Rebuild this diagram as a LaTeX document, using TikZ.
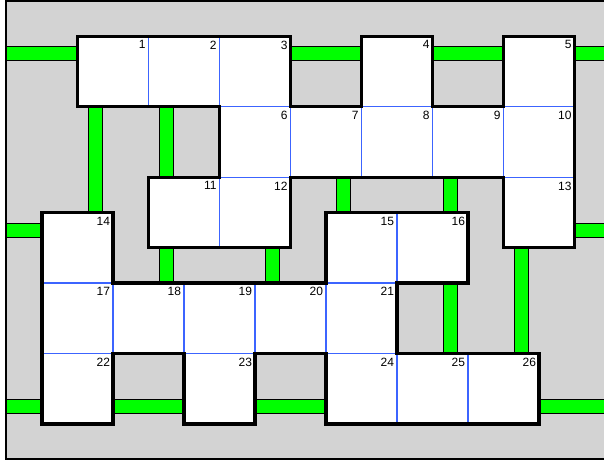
\documentclass[tikz,border=0pt]{standalone}
\usepackage{xcolor}
\usepackage{fontspec}
\setmainfont{Liberation Sans}
\usepackage{tikz}
\definecolor{mazegray}{RGB}{211,211,211}
\definecolor{mazegreen}{RGB}{0,255,0}
\definecolor{mazeblue}{RGB}{60,100,255}

\begin{document}
\begin{tikzpicture}[x=26.625pt,y=26.4375pt,
		wall/.style={line width=2.3pt,line join=miter},
		cellbox/.style={fill=white,draw=mazeblue,line width=1pt},
		pipe/.style={fill=mazegreen,draw=black,line width=0.8pt},
		num/.style={anchor=north east,inner xsep=2pt,inner ysep=3.1pt,font=\fontsize{9}{11}\selectfont}]
			\useasboundingbox (-1.183,-1.078) rectangle (15.831,12.028);
			\clip (-1.183,-1.078) rectangle (15.831,12.028);
			\fill[mazegray] (-1,-1) rectangle (16.5,12);
			% pipes between the rooms
			\foreach \y/\a/\b in {10.5/-1/1,10.5/7/9,10.5/11/13,10.5/15/16.5,5.5/-1/0,5.5/15/16.5,0.5/-1/0,0.5/2/4,0.5/6/8,0.5/14/16.5}{
				\draw[pipe] (\a,\y-0.2) rectangle (\b,\y+0.2);
			}
			\foreach \x/\a/\b in {1.5/6/9,3.5/7/9,8.5/6/7,11.5/6/7,3.5/4/5,6.5/4/5,11.5/2/4,13.5/2/5}{
				\draw[pipe] (\x-0.2,\a) rectangle (\x+0.2,\b);
			}
			\draw[line width=1.5pt] (-1,-1) rectangle (16.5,12);
			% rooms
			\foreach \x/\y/\n in {1/9/1,3/9/2,5/9/3,9/9/4,13/9/5,5/7/6,7/7/7,9/7/8,11/7/9,13/7/10,3/5/11,5/5/12,13/5/13,
				0/4/14,8/4/15,10/4/16,0/2/17,2/2/18,4/2/19,6/2/20,8/2/21,0/0/22,4/0/23,8/0/24,10/0/25,12/0/26}{
				\draw[cellbox] (\x,\y) rectangle ++(2,2);
				\node[num] (n\n) at (\x+2,\y+2) {\n};
			}
			\draw[wall] (1,11) -- (7,11) -- (7,9) -- (9,9) -- (9,11) -- (11,11) -- (11,9) -- (13,9) -- (13,11) -- (15,11) -- (15,5) -- (13,5) -- (13,7) -- (7,7) -- (7,5) -- (3,5) -- (3,7) -- (5,7) -- (5,9) -- (1,9) -- cycle;
			\draw[wall] (0,6) -- (2,6) -- (2,4) -- (8,4) -- (8,6) -- (12,6) -- (12,4) -- (10,4) -- (10,2) -- (14,2) -- (14,0) -- (8,0) -- (8,2) -- (6,2) -- (6,0) -- (4,0) -- (4,2) -- (2,2) -- (2,0) -- (0,0) -- cycle;
		\end{tikzpicture}
\end{document}
